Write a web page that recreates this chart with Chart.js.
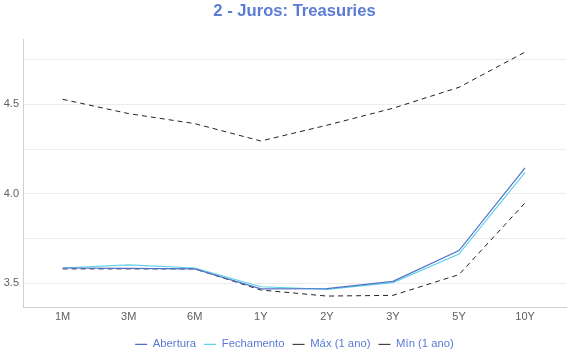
<!DOCTYPE html>
<html>
<head>
<meta charset="utf-8">
<script src="https://cdn.jsdelivr.net/npm/chart.js@4/dist/chart.umd.min.js"></script>
<style>
html,body{margin:0;padding:0;background:#fff;}
#wrap{width:570px;height:360px;position:relative;}
</style>
</head>
<body>
<div id="wrap"><canvas id="c" width="570" height="360"></canvas></div>
<script>
const categories = ["1M","3M","6M","1Y","2Y","3Y","5Y","10Y"];
const abertura   = [3.585, 3.583, 3.580, 3.468, 3.470, 3.510, 3.682, 4.145];
const fechamento = [3.585, 3.602, 3.585, 3.480, 3.465, 3.503, 3.663, 4.120];
const maxAno     = [4.528, 4.448, 4.392, 4.295, 4.383, 4.478, 4.595, 4.792];
const minAno     = [3.580, 3.580, 3.580, 3.462, 3.428, 3.432, 3.548, 3.949];
const yTicks     = [3.5, 3.75, 4.0, 4.25, 4.5, 4.75];

const toXY = arr => arr.map((v, i) => ({x: i, y: v}));
const FONT = "'Liberation Sans', Arial, sans-serif";
const BLUE = "#5470c6";
const CYAN = "#5ed3ea";
const TXT = "#5b7bd5";

new Chart(document.getElementById('c'), {
  type: 'line',
  data: {
    datasets: [
      {label: 'Abertura', data: toXY(abertura), borderColor: BLUE, backgroundColor: BLUE, borderWidth: 1.2},
      {label: 'Fechamento', data: toXY(fechamento), borderColor: CYAN, backgroundColor: CYAN, borderWidth: 1.2},
      {label: 'Máx (1 ano)', data: toXY(maxAno), borderColor: '#222', backgroundColor: '#222', borderWidth: 1, borderDash: [5, 4]},
      {label: 'Mín (1 ano)', data: toXY(minAno), borderColor: '#222', backgroundColor: '#222', borderWidth: 1, borderDash: [5, 4]}
    ]
  },
  options: {
    responsive: false,
    animation: false,
    devicePixelRatio: 1,
    layout: {padding: {left: 0, right: 4, top: 0, bottom: 0}},
    elements: {point: {radius: 0, hoverRadius: 0}, line: {tension: 0}},
    plugins: {
      title: {
        display: true,
        fullSize: false,
        text: '2 - Juros: Treasuries',
        color: TXT,
        font: {family: FONT, size: 16.6, weight: 'bold'},
        padding: {top: 1, bottom: 19}
      },
      legend: {
        position: 'bottom',
        fullSize: false,
        labels: {
          color: TXT,
          font: {family: FONT, size: 11.3},
          usePointStyle: true,
          pointStyle: 'line',
          pointStyleWidth: 12,
          boxHeight: 11,
          padding: 8
        }
      },
      tooltip: {enabled: false}
    },
    scales: {
      x: {
        type: 'linear',
        min: -0.6,
        max: 7.62,
        afterBuildTicks: s => { s.ticks = categories.map((c, i) => ({value: i})); },
        afterFit: s => { s.height = 23; },
        ticks: {
          autoSkip: false,
          maxRotation: 0,
          color: '#606060',
          font: {family: FONT, size: 11},
          padding: 3,
          callback: v => categories[v]
        },
        grid: {display: false, drawTicks: false},
        border: {display: true, color: '#d0d0d0'}
      },
      y: {
        min: 3.363,
        max: 4.86,
        afterBuildTicks: s => { s.ticks = yTicks.map(v => ({value: v})); },
        afterFit: s => { s.width = 23; },
        ticks: {
          color: '#606060',
          font: {family: FONT, size: 11},
          padding: 4,
          callback: v => (Math.abs(v * 2 - Math.round(v * 2)) < 1e-6) ? v.toFixed(1) : ''
        },
        grid: {color: '#ececec', drawTicks: false},
        border: {display: true, color: '#d0d0d0'}
      }
    }
  }
});
</script>
</body>
</html>
